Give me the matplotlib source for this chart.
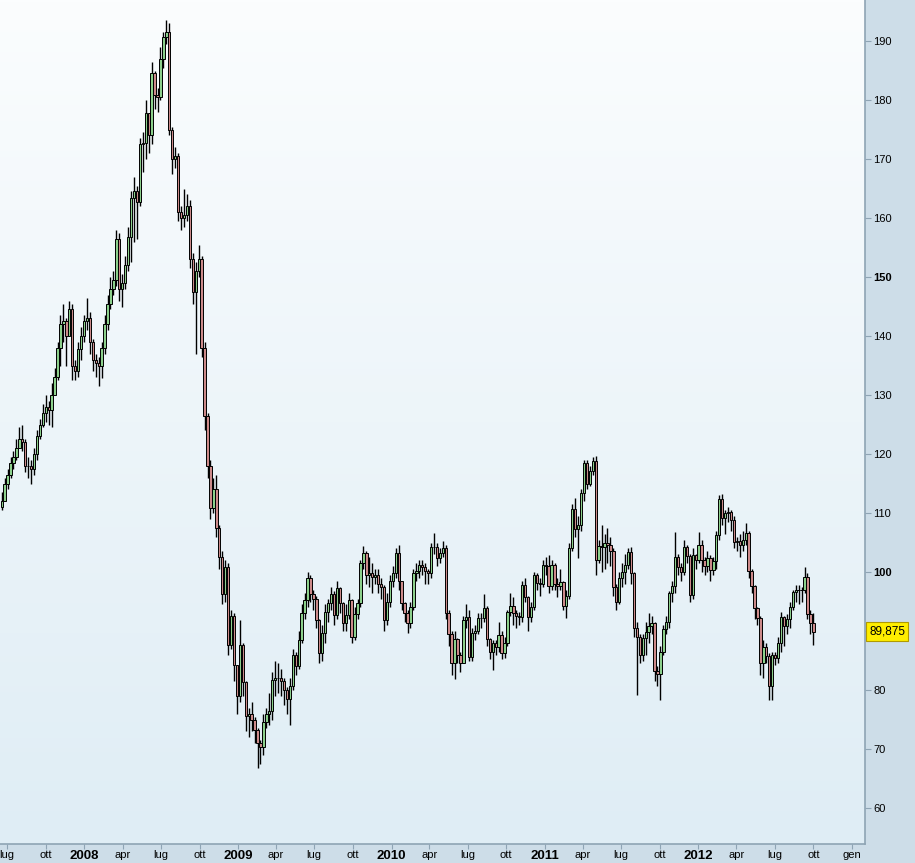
import numpy as np
import pandas as pd
import matplotlib
matplotlib.use('Agg')
import matplotlib.pyplot as plt
import matplotlib.dates as mdates
from matplotlib.colors import LinearSegmentedColormap

# Weekly candles, last week starting 2012-10-01
closes = [
    112, 115, 116.5, 118.5, 119.5, 121, 122.5, 122, 118, 118,
    117.5, 120, 123, 125, 127, 128, 127.5, 130, 133, 138,
    142, 142.5, 140, 144.5, 135, 134, 137.8, 140, 142.5, 143,
    139, 136, 135.5, 135, 138, 142, 145.5, 148, 149.5,
    156.5, 148, 149, 152, 156.8, 163.4, 164.5, 162.7, 172.5, 172.7,
    177.8, 174, 184.6, 180.8, 180.5, 187, 190.6, 191.5, 175, 170,
    170.5, 161, 160, 160.5, 162, 153, 147.5, 151, 153, 138,
    126.4, 118, 110.8, 114, 107.5, 102.5, 96.3, 100.8, 87.6, 92.5,
    84.2, 79, 87.6, 81.4, 75.6, 76, 75, 73.2, 71, 70.3,
    74.6, 76, 76.5, 81.7, 82, 82, 81.5, 80, 78.5, 80.7,
    86, 84, 88.5, 93.1, 95.3, 99,
    96.3, 95.4, 91.9, 86.3, 89.7, 93.2, 94.7, 96.3, 92.7, 97.3,
    94.7, 91.3, 92.7, 95.3, 89, 92.9, 94.7, 101.5, 103.2, 99.5,
    99.8, 99.2, 99.5, 98, 97.5, 91.9, 95, 98.4, 99.8, 103.2,
    98.4, 94.7, 93, 91.3, 94, 99.8, 100.1, 101.2, 100.9, 100.1,
    99.8, 104.2, 104.3, 102.4, 103.2, 104, 93,
    89.5, 84.6, 88.6, 85.9, 84.5, 91.9, 92.4, 85.6, 89.7, 90,
    92.2, 92.2, 93.9, 88.6, 86.4, 87.9, 87.3, 89.3, 86.3, 88,
    93.2, 94.2, 93, 92.5, 92.4, 97.8, 95.8, 92.4, 94.1, 99.5,
    98.1, 98, 101.2, 101, 97.6, 101.2, 98, 97.6, 98.3, 94.2,
    96, 104, 110.6, 107.3, 108, 113.4, 118.5, 115, 117.1, 118.8,
    102,
    104.4, 104.2, 104.9, 104.6, 103.6, 97.5, 95, 99, 100, 101.2,
    103.4, 99.8, 90.5, 89, 85.9, 88.8, 89.8, 90.8, 91.3, 83.2,
    82.7, 86.4, 90.3, 91.5, 96.4, 97.6, 102.5, 100.8, 100, 104.2,
    102.7, 96.1, 102.9, 102, 104.6, 102, 101, 102.3, 100.3,
    101.8, 106.3, 112.4, 109.2, 110, 110.2, 108.8, 105.1, 105.3, 104.6,
    105.4, 106.6, 100.2, 97.6, 93.9, 92.2, 84.6, 87.3, 85.8, 80.7,
    85.9, 85.4, 88, 92.4, 90.8, 92, 94.1, 96.6, 97, 97,
    97, 99.2, 92.9, 91.3, 89.875,
]

highs = [
    113.5, 116, 117.5, 119.5, 120.5, 122.5, 124.5, 125, 122.5, 119.5,
    119, 121, 124, 126, 128.5, 130, 129, 132, 134.5, 139,
    143.5, 145.5, 143, 146, 145.5, 136, 139, 141.5, 143.5, 146.4,
    144, 139.5, 137, 136.5, 139, 143.5, 147, 150, 151,
    158, 157.5, 150.5, 153.5, 158.5, 164.5, 167, 165.5, 173.5, 174.5,
    180, 177.5, 186.5, 185, 182, 189, 191.5, 193.5, 193, 175.5,
    172, 171, 162, 165, 164, 163, 154, 152.5, 155.5, 153.5,
    139, 127, 119, 116, 116.5, 108, 103.5, 102, 101.5, 93.5,
    93, 83, 91.9, 88, 81.5, 77, 78, 75.5, 73.5, 71.5,
    76, 77, 79.5, 83, 85, 84.5, 83.5, 82, 80.5, 82,
    87, 86.5, 90, 94.5, 96.5, 100,
    99.5, 97, 96, 92, 91, 94.5, 95.5, 97.5, 96.8, 98.5,
    97.5, 95, 94.5, 96.5, 95.5, 94, 95.5, 102, 104.4, 103.5,
    102.5, 101.5, 100.5, 100.5, 99, 97.8, 96.5, 99.5, 101, 104,
    104.6, 98.5, 95, 93.5, 95, 100.5, 101.5, 102, 102, 101.5,
    100.5, 105, 106.6, 105, 104, 105.2, 104.5,
    93.5, 90, 90, 88.8, 86.5, 92.5, 94.5, 93.5, 90.5, 91,
    93, 93, 96.2, 94.2, 88.8, 88.5, 88.5, 91.5, 90, 89,
    93.5, 96.5, 95.8, 93.5, 93.2, 98.5, 99, 96, 95, 100,
    99.8, 99, 102, 102.5, 102.8, 102, 101.6, 99, 100.5, 98.5,
    97, 105, 111.5, 112.5, 109.5, 114, 119, 119, 118, 119.5,
    119.7,
    105.5, 108, 106.5, 107.5, 106, 104, 98, 100, 101.5, 103,
    104, 104.2, 100, 91.5, 89.5, 89.5, 91.5, 93, 92.5, 91.5,
    84, 87.5, 91, 92.5, 96.8, 98.5, 106.8, 103, 101.5, 105.5,
    104.6, 103, 104, 103, 106.8, 105.5, 102.5, 103.5, 102.8,
    102.5, 107, 113, 113.2, 110.5, 111, 110.5, 109.5, 106, 106.5,
    107, 108.3, 107, 100.5, 97.8, 94, 92.5, 88.5, 88, 86.2,
    86.5, 86.5, 89, 93.2, 92.6, 92.8, 95, 97, 97.8, 97.8,
    97.5, 100.8, 99.8, 93.5, 93,
]

lows = [
    110.5, 112, 114, 116, 117.5, 119, 121, 120.5, 117, 116,
    115, 116.5, 119, 122.5, 124.5, 125.5, 125, 124.5, 130, 132.5,
    135, 139, 135, 140, 132.5, 132.5, 133, 136, 139, 141,
    137, 134, 133, 131.5, 132.8, 137, 141, 144.5, 147,
    148.5, 146, 145, 148, 151, 152.5, 156, 156.5, 162, 167.8,
    170, 171, 172.5, 178.5, 178, 180, 185.5, 189.5, 174, 167.5,
    168.5, 159.5, 158, 158.5, 159.5, 151.5, 145.5, 137, 150, 136.5,
    124, 116, 109, 110, 106, 100.5, 94.5, 95, 86, 87,
    81.5, 76, 78, 79, 73, 72, 73, 71, 66.8, 67.5,
    69, 73.5, 74, 75, 79, 79.5, 79, 77.5, 76, 74,
    80, 82.5, 83.5, 88, 92, 94,
    95, 93.5, 90.5, 84.6, 85, 88, 91.5, 93.5, 91, 92,
    93, 90, 90, 92, 88, 88.5, 92, 94, 100.5, 98,
    97.5, 96.5, 98, 96.5, 95.5, 90, 91, 94, 97.5, 99,
    97, 93.5, 91.5, 89.7, 90.5, 93.5, 98.5, 99, 99.5, 98,
    98, 99, 103, 101, 101.5, 102.5, 92,
    87.5, 82.5, 81.9, 84.5, 83, 84.5, 90.5, 85, 85, 88.5,
    89.5, 90.5, 91.5, 87.5, 85.3, 83.4, 86, 86.5, 85.3, 85.5,
    87.5, 92.5, 91, 90.5, 91, 91.5, 95, 90, 91.5, 93.5,
    97, 96, 97.5, 99.5, 96.5, 97, 97, 95.8, 97, 93.5,
    92.2, 95.5, 103.5, 106, 102.4, 107, 112, 114, 114.5, 116.5,
    99.5,
    101.5, 100, 100.5, 101.5, 101, 96, 93.5, 94.5, 97.5, 98,
    100.5, 98, 89, 79.2, 84.5, 85, 86, 88, 89.5, 81.5,
    80.7, 78.3, 86, 89.5, 90.5, 95, 96.5, 99.5, 98.5, 99.5,
    101.5, 95, 95.5, 100.5, 101.5, 100, 99.5, 100, 98.5,
    99.5, 100.5, 105.5, 108, 106.5, 108.5, 107, 104, 103.5, 102.5,
    103.5, 104.5, 99, 96.5, 92, 91, 82.5, 82, 84.5, 78.3,
    78.3, 84.3, 84.5, 86.5, 87.5, 89.5, 90.5, 93.5, 95, 94.5,
    95, 96.5, 92, 89.5, 87.6,
]

first_open = 111
last_price = 89.875

y_ticks = list(range(60, 200, 10))
bold_y = [100, 150]
hidden_y = [90]  # covered by the last price box
month_names = {1: 'gen', 4: 'apr', 7: 'lug', 10: 'ott'}

n = len(closes)
dates = pd.date_range(end='2012-10-01', periods=n, freq='7D')
x = mdates.date2num(dates.to_pydatetime())
closes = np.array(closes, dtype=float)
opens = np.r_[first_open, closes[:-1]]
highs = np.array(highs, dtype=float)
lows = np.array(lows, dtype=float)

up_color = '#8cd08c'
down_color = '#cc8a8a'
panel_color = '#cddde8'
spine_color = '#8ea4b4'

fig = plt.figure(figsize=(9.15, 8.63), dpi=100, facecolor=panel_color)
ax = fig.add_axes([0, 19 / 863, 865 / 915, 844 / 863])
ax.set_facecolor('white')

# gradient background
grad = LinearSegmentedColormap.from_list('bg', ['#dfedf5', '#fbfdfe'])
ax.imshow(np.linspace(0, 1, 256).reshape(-1, 1), cmap=grad, origin='lower',
          extent=[0, 1, 0, 1], transform=ax.transAxes, aspect='auto', zorder=0)

# wicks
ax.vlines(x, lows, highs, color='black', linewidth=1.0, zorder=2)

# bodies
colors = [up_color if c >= o else down_color for o, c in zip(opens, closes)]
bottoms = np.minimum(opens, closes)
heights = np.abs(closes - opens)
ax.bar(x, heights, bottom=bottoms, width=5.6, color=colors,
       edgecolor='black', linewidth=0.7, zorder=3)

ax.set_xlim(mdates.date2num(pd.Timestamp('2007-06-14')),
            mdates.date2num(pd.Timestamp('2013-02-01')))
ax.set_ylim(53.9, 196.95)

# x axis: quarters, years in bold
qdates = pd.date_range('2007-07-01', '2013-01-01', freq='QS-JAN')
ax.set_xticks(mdates.date2num(qdates.to_pydatetime()))
xlabels = []
for d in qdates:
    xlabels.append(str(d.year) if d.month == 1 and d.year < 2013 else month_names[d.month])
ax.set_xticklabels(xlabels)
for lab, d in zip(ax.get_xticklabels(), qdates):
    lab.set_fontfamily('Liberation Sans')
    if d.month == 1 and d.year < 2013:
        lab.set_fontweight('bold')
        lab.set_fontsize(9.5)
    else:
        lab.set_fontsize(8)

# y axis on the right
ax.yaxis.tick_right()
ax.set_yticks(y_ticks)
ax.set_yticklabels(['' if v in hidden_y else str(v) for v in y_ticks])
for lab, v in zip(ax.get_yticklabels(), y_ticks):
    lab.set_fontfamily('Liberation Sans')
    lab.set_fontsize(8)
    if v in bold_y:
        lab.set_fontweight('bold')

ax.tick_params(axis='both', direction='out', length=4, width=0.8,
               color=spine_color, labelcolor='black', pad=2)
ax.tick_params(axis='x', length=3.5, pad=0.5)

for side in ['top', 'left']:
    ax.spines[side].set_visible(False)
for side in ['bottom', 'right']:
    ax.spines[side].set_color(spine_color)
    ax.spines[side].set_linewidth(1.2)

# last price label
ax.annotate(f'{last_price:.3f}'.replace('.', ','), xy=(1, last_price),
            xycoords=('axes fraction', 'data'), xytext=(3, 0),
            textcoords='offset points', va='center', ha='left',
            fontsize=8.5, family='Liberation Sans', color='black',
            bbox=dict(boxstyle='square,pad=0.28', facecolor='#ffee00',
                      edgecolor='#b09a00', linewidth=0.8),
            annotation_clip=False)

fig.savefig('out.png', dpi=100, facecolor=panel_color)
